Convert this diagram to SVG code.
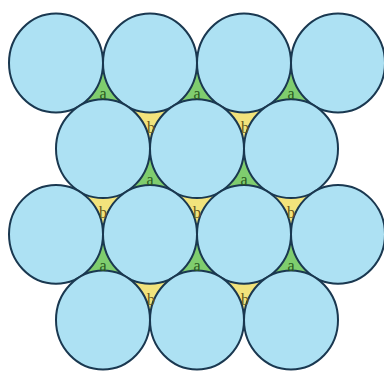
<svg xmlns="http://www.w3.org/2000/svg" width="384" height="374" viewBox="0 0 384 374">
<style>
.ga{fill:#7fcd6e;stroke:#3e8a3a;stroke-width:1}
.gb{fill:#f2e37c;stroke:#a89a3a;stroke-width:1}
.c{fill:#ade1f3;stroke:#1a3850;stroke-width:2}
.ta{font-family:"Liberation Serif",serif;font-size:16px;fill:#2a5a1e;text-anchor:middle;dominant-baseline:central}
.tb{font-family:"Liberation Serif",serif;font-size:16px;fill:#66561a;text-anchor:middle;dominant-baseline:central}
</style>
<rect width="384" height="374" fill="#ffffff"/>
<g id="gaps">
<g id="a1"><polygon class="ga" points="56,63 150,63 103,148.67"/></g>
<g id="a2"><polygon class="ga" points="150,63 244,63 197,148.67"/></g>
<g id="a3"><polygon class="ga" points="244,63 338,63 291,148.67"/></g>
<g id="b1"><polygon class="gb" points="150,63 103,148.67 197,148.67"/></g>
<g id="b2"><polygon class="gb" points="244,63 197,148.67 291,148.67"/></g>
<g id="a4"><polygon class="ga" points="103,148.67 197,148.67 150,234.33"/></g>
<g id="a5"><polygon class="ga" points="197,148.67 291,148.67 244,234.33"/></g>
<g id="b3"><polygon class="gb" points="103,148.67 56,234.33 150,234.33"/></g>
<g id="b4"><polygon class="gb" points="197,148.67 150,234.33 244,234.33"/></g>
<g id="b5"><polygon class="gb" points="291,148.67 244,234.33 338,234.33"/></g>
<g id="a6"><polygon class="ga" points="56,234.33 150,234.33 103,320"/></g>
<g id="a7"><polygon class="ga" points="150,234.33 244,234.33 197,320"/></g>
<g id="a8"><polygon class="ga" points="244,234.33 338,234.33 291,320"/></g>
<g id="b6"><polygon class="gb" points="150,234.33 103,320 197,320"/></g>
<g id="b7"><polygon class="gb" points="244,234.33 197,320 291,320"/></g>
</g>
<g id="circles">
<g id="c1"><ellipse class="c" cx="56" cy="63" rx="47" ry="49.45"/></g>
<g id="c2"><ellipse class="c" cx="150" cy="63" rx="47" ry="49.45"/></g>
<g id="c3"><ellipse class="c" cx="244" cy="63" rx="47" ry="49.45"/></g>
<g id="c4"><ellipse class="c" cx="338" cy="63" rx="47" ry="49.45"/></g>
<g id="c5"><ellipse class="c" cx="103" cy="148.67" rx="47" ry="49.45"/></g>
<g id="c6"><ellipse class="c" cx="197" cy="148.67" rx="47" ry="49.45"/></g>
<g id="c7"><ellipse class="c" cx="291" cy="148.67" rx="47" ry="49.45"/></g>
<g id="c8"><ellipse class="c" cx="56" cy="234.33" rx="47" ry="49.45"/></g>
<g id="c9"><ellipse class="c" cx="150" cy="234.33" rx="47" ry="49.45"/></g>
<g id="c10"><ellipse class="c" cx="244" cy="234.33" rx="47" ry="49.45"/></g>
<g id="c11"><ellipse class="c" cx="338" cy="234.33" rx="47" ry="49.45"/></g>
<g id="c12"><ellipse class="c" cx="103" cy="320" rx="47" ry="49.45"/></g>
<g id="c13"><ellipse class="c" cx="197" cy="320" rx="47" ry="49.45"/></g>
<g id="c14"><ellipse class="c" cx="291" cy="320" rx="47" ry="49.45"/></g>
</g>
<g id="labels">
<text class="ta" x="103" y="93">a</text>
<text class="ta" x="197" y="93">a</text>
<text class="ta" x="291" y="93">a</text>
<text class="tb" x="151" y="127">b</text>
<text class="tb" x="245" y="127">b</text>
<text class="ta" x="150" y="179">a</text>
<text class="ta" x="244" y="179">a</text>
<text class="tb" x="103" y="212">b</text>
<text class="tb" x="197" y="212">b</text>
<text class="tb" x="291" y="212">b</text>
<text class="ta" x="103" y="265">a</text>
<text class="ta" x="197" y="265">a</text>
<text class="ta" x="291" y="265">a</text>
<text class="tb" x="151" y="299">b</text>
<text class="tb" x="245" y="299">b</text>
</g>
</svg>
